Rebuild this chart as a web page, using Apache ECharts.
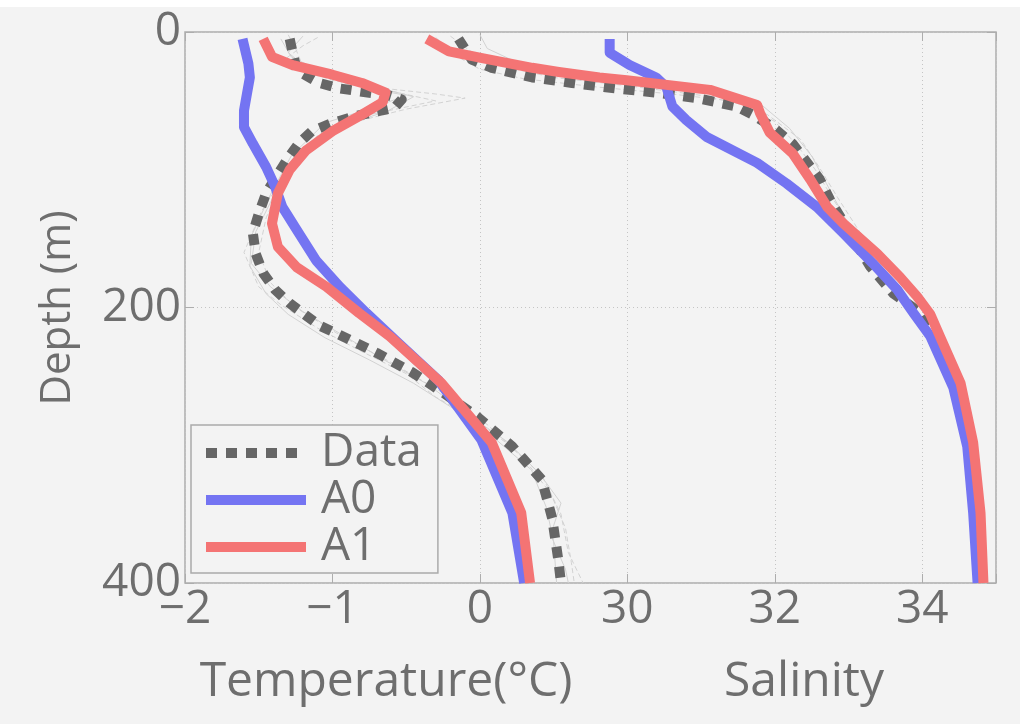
<!DOCTYPE html>
<html>
<head>
<meta charset="utf-8">
<script src="https://cdn.jsdelivr.net/npm/echarts@6/dist/echarts.min.js"></script>
<style>
html,body{margin:0;padding:0;background:#f3f3f3;}
#chart{width:1020px;height:724px;}
</style>
</head>
<body>
<div id="chart"></div>
<script>
// ---- data: [value, depth (m)] ----
const depthTicks = [0, 200, 400];
const tempTickLabels = ['\u22122', '\u22121', '0'];
const salTickLabels = ['30', '32', '34'];
const legendNames = ['Data', 'A0', 'A1'];

const tempData = [[-1.29,5],[-1.27,15],[-1.24,28],[-1.09,37],[-0.95,41],[-0.82,43],[-0.62,46],[-0.53,49],[-0.58,55],[-0.84,61],[-1.0,66],[-1.14,72],[-1.23,81],[-1.31,93],[-1.45,117],[-1.5,132],[-1.54,146],[-1.52,161],[-1.47,175],[-1.39,187],[-1.29,197],[-1.09,213],[-0.95,220],[-0.70,233],[-0.46,247],[-0.26,261],[-0.01,280],[0.22,301],[0.42,325],[0.49,353],[0.53,382],[0.55,400]];
const tempA0 = [[-1.61,5],[-1.57,23],[-1.56,33],[-1.58,45],[-1.6,57],[-1.6,69],[-1.54,81],[-1.45,98],[-1.39,112],[-1.34,127],[-1.24,144],[-1.11,166],[-0.95,185],[-0.77,204],[-0.57,224],[-0.28,253],[0.01,296],[0.22,349],[0.30,400]];
const tempA1 = [[-1.47,5],[-1.41,18],[-1.27,24],[-1.0,31],[-0.8,37],[-0.64,44],[-0.66,51],[-0.8,60],[-1.0,72],[-1.18,86],[-1.29,100],[-1.37,117],[-1.41,139],[-1.37,156],[-1.24,171],[-1.04,185],[-0.82,204],[-0.61,221],[-0.26,255],[0.08,298],[0.28,349],[0.34,400]];

const salData = [[27.71,5],[27.89,20],[28.16,26],[28.71,33],[29.25,37],[29.85,41],[30.39,44],[30.94,48],[31.48,54],[31.7,60],[31.97,69],[32.24,81],[32.44,95],[32.61,107],[32.75,122],[33.02,146],[33.29,170],[33.61,190],[33.98,204],[34.18,221],[34.47,258],[34.65,301],[34.74,349],[34.79,400]];
const salA0 = [[29.76,5],[29.76,15],[30.03,24],[30.39,33],[30.53,40],[30.61,54],[30.8,64],[31.07,76],[31.76,95],[32.16,110],[32.57,127],[32.93,146],[33.33,168],[33.66,187],[33.88,204],[34.11,221],[34.42,258],[34.61,301],[34.69,349],[34.75,400]];
const salA1 = [[27.28,5],[27.58,14],[28.03,19],[28.71,26],[29.07,29],[29.62,33],[29.99,35],[31.12,42],[31.76,53],[31.8,59],[31.93,73],[32.24,88],[32.48,107],[32.71,127],[32.93,139],[33.39,161],[33.70,178],[33.93,192],[34.11,205],[34.24,221],[34.52,255],[34.69,298],[34.79,349],[34.83,400]];

// individual profiles (thin grey)
const tempProfile1 = [[-1.3,2],[-1.25,12],[-1.2,25],[-0.9,38],[-0.3,45],[-0.1,48],[-0.5,56],[-0.95,68],[-1.2,85],[-1.35,110],[-1.45,135],[-1.5,160],[-1.42,182],[-1.25,200],[-0.95,220],[-0.6,240],[-0.25,262],[0.05,285],[0.3,310],[0.48,335],[0.58,360],[0.62,385],[0.64,400]];
const tempProfile2 = [[-1.2,3],[-1.3,15],[-1.15,28],[-0.8,40],[-0.5,46],[-0.7,54],[-1.05,66],[-1.28,90],[-1.42,118],[-1.55,148],[-1.56,170],[-1.45,190],[-1.3,205],[-1.05,222],[-0.75,238],[-0.45,255],[-0.2,272],[0.1,295],[0.35,318],[0.45,345],[0.5,370],[0.52,400]];
const tempProfile3 = [[-1.1,4],[-1.2,10],[-1.35,22],[-1.0,35],[-0.6,43],[-0.3,50],[-0.75,60],[-1.1,75],[-1.3,100],[-1.48,130],[-1.6,160],[-1.5,185],[-1.35,198],[-1.1,215],[-0.8,232],[-0.5,248],[-0.3,265],[-0.05,280],[0.2,300],[0.42,322],[0.55,350],[0.6,378],[0.7,400]];
const tempProfile4 = [[-1.35,5],[-1.28,18],[-1.05,30],[-0.7,40],[-0.45,47],[-0.62,57],[-0.98,70],[-1.22,88],[-1.38,115],[-1.52,145],[-1.55,168],[-1.42,185],[-1.2,203],[-0.9,222],[-0.65,238],[-0.35,256],[-0.12,275],[0.18,297],[0.4,320],[0.55,342],[0.48,365],[0.58,390],[0.6,400]];
const salProfile1 = [[27.6,3],[27.9,15],[28.3,25],[29.0,33],[30.0,39],[31.0,46],[31.6,53],[32.0,65],[32.3,82],[32.55,100],[32.8,122],[33.1,148],[33.4,170],[33.7,190],[34.0,210],[34.3,235],[34.5,260],[34.65,290],[34.75,330],[34.8,370],[34.85,400]];
const salProfile2 = [[28.0,2],[28.1,12],[28.5,22],[29.3,30],[30.4,38],[31.3,44],[31.8,52],[32.2,70],[32.5,90],[32.7,110],[32.95,135],[33.2,158],[33.55,180],[33.85,200],[34.15,222],[34.4,250],[34.6,280],[34.72,315],[34.8,360],[34.84,400]];
const salProfile3 = [[27.4,4],[27.7,18],[28.0,27],[28.6,34],[29.6,40],[30.6,45],[31.4,50],[31.9,60],[32.35,78],[32.6,98],[32.85,120],[33.15,145],[33.5,168],[33.8,188],[34.05,205],[34.35,230],[34.55,262],[34.7,300],[34.78,345],[34.82,400]];

// ---- styling ----
const FONT = 'Open Sans';
const TXT = '#6e6e6e';
const C_DATA = '#666666', C_A0 = '#7474f2', C_A1 = '#f47474', C_GREY = '#d2d2d2';

function profile(data, xi, dashed) {
  return { type: 'line', xAxisIndex: xi, yAxisIndex: 0, data: data, symbol: 'none', silent: true,
    lineStyle: { color: C_GREY, width: 1, type: dashed ? [5, 3] : 'solid' }, z: 1 };
}
function main(name, data, xi, color, type) {
  return { name: name, type: 'line', xAxisIndex: xi, yAxisIndex: 0, data: data, symbol: 'none',
    lineStyle: { color: color, width: 10, type: type, cap: 'butt', join: 'round' }, itemStyle: { color: color }, z: 3 };
}
const tickStyle = { show: true, inside: true, length: 9, lineStyle: { color: '#adadad', width: 1 } };
const noLine = { show: false, onZero: false };

const chart = echarts.init(document.getElementById('chart'));
chart.setOption({
  backgroundColor: '#f3f3f3',
  animation: false,
  grid: { show: true, borderColor: '#adadad', borderWidth: 1.5, backgroundColor: 'transparent', left: 185, top: 32, right: 24, bottom: 141 },
  xAxis: [
    { type: 'value', min: -2, max: 3.5, interval: 1, position: 'bottom',
      axisLine: noLine, axisTick: tickStyle,
      splitLine: { show: true, lineStyle: { color: '#c4c4c4', type: [1, 3], width: 1 } },
      axisLabel: { margin: 4, fontFamily: FONT, fontSize: 46, color: TXT,
        formatter: function (v) { const i = [-2, -1, 0].indexOf(v); return i >= 0 ? tempTickLabels[i] : ''; } } },
    { type: 'value', min: 24, max: 35, interval: 2, position: 'bottom',
      axisLine: noLine, axisTick: { show: false }, splitLine: { show: false },
      axisLabel: { margin: 4, fontFamily: FONT, fontSize: 46, color: TXT, showMaxLabel: false,
        formatter: function (v) { const i = [30, 32, 34].indexOf(v); return i >= 0 ? salTickLabels[i] : ''; } } },
    { type: 'value', min: -2, max: 3.5, interval: 1, position: 'top',
      axisLine: noLine, splitLine: { show: false }, axisLabel: { show: false }, axisTick: tickStyle }
  ],
  yAxis: [
    { type: 'value', inverse: true, min: 0, max: 400, interval: 200, position: 'left',
      axisLine: noLine, axisTick: tickStyle,
      splitLine: { show: true, lineStyle: { color: '#c4c4c4', type: [1, 3], width: 1 } },
      axisLabel: { margin: 4, fontFamily: FONT, fontSize: 46, color: TXT,
        formatter: function (v) { return depthTicks.indexOf(v) >= 0 ? String(v) : ''; } } },
    { type: 'value', inverse: true, min: 0, max: 400, interval: 200, position: 'right',
      axisLine: noLine, splitLine: { show: false }, axisLabel: { show: false }, axisTick: tickStyle }
  ],
  legend: {
    data: legendNames, orient: 'vertical', left: 191, top: 425,
    padding: [5, 16, 3, 10], itemGap: 1, itemWidth: 100, itemHeight: 10,
    backgroundColor: '#f3f3f3', borderColor: '#aaaaaa', borderWidth: 1.5, borderRadius: 0,
    lineStyle: { width: 10 },
    itemStyle: { opacity: 0 },
    textStyle: { fontFamily: FONT, fontSize: 46, color: TXT, padding: [0, 0, 0, 10] }
  },
  graphic: [
    { type: 'rect', shape: { x: 0, y: 0, width: 1020, height: 7 }, style: { fill: '#ffffff' }, silent: true },
    { type: 'text', x: 386, y: 682, style: { text: 'Temperature(\u00B0C)', font: '48px "Open Sans"', fill: TXT, textAlign: 'center', textVerticalAlign: 'middle' } },
    { type: 'text', x: 804, y: 682, style: { text: 'Salinity', font: '48px "Open Sans"', fill: TXT, textAlign: 'center', textVerticalAlign: 'middle' } },
    { type: 'text', x: 58, y: 308, rotation: Math.PI / 2, style: { text: 'Depth (m)', font: '42px "Open Sans"', fill: TXT, textAlign: 'center', textVerticalAlign: 'middle' } }
  ],
  series: [
    profile(tempProfile1, 0, true), profile(tempProfile2, 0, false), profile(tempProfile3, 0, true), profile(tempProfile4, 0, false),
    profile(salProfile1, 1, true), profile(salProfile2, 1, false), profile(salProfile3, 1, true),
    main('Data', tempData, 0, C_DATA, [11, 9]),
    main('Data', salData, 1, C_DATA, [11, 9]),
    main('A0', tempA0, 0, C_A0, 'solid'),
    main('A0', salA0, 1, C_A0, 'solid'),
    main('A1', tempA1, 0, C_A1, 'solid'),
    main('A1', salA1, 1, C_A1, 'solid')
  ]
});
</script>
</body>
</html>
